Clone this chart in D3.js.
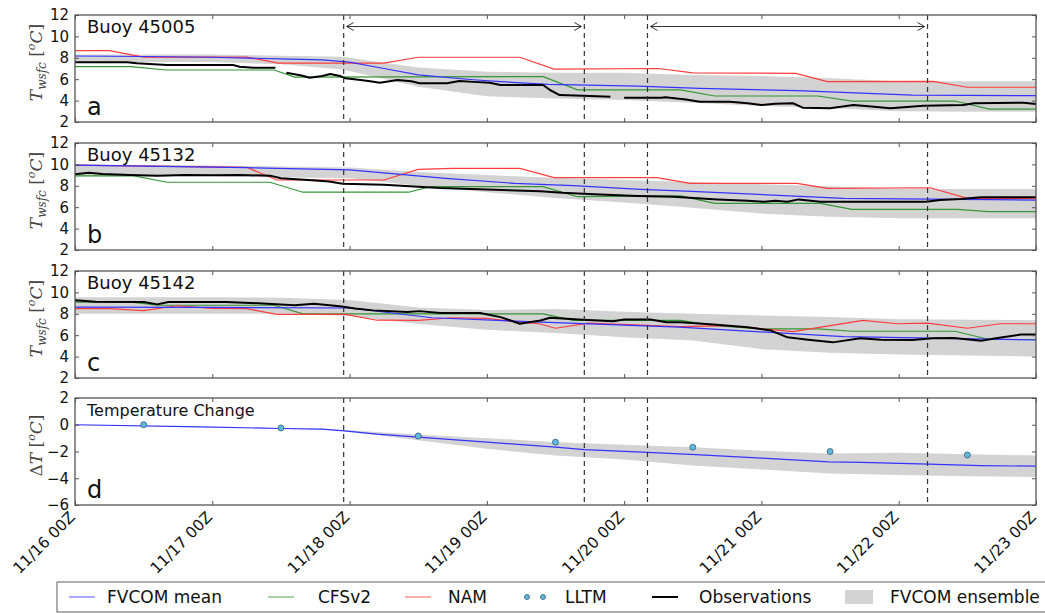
<!DOCTYPE html>
<html><head><meta charset="utf-8">
<script src="https://cdn.jsdelivr.net/npm/d3@7"></script>
<style>body{margin:0;background:#fff;overflow:hidden}</style>
</head><body>
<svg id="c" width="1045" height="613"></svg>
<script>
// ---------- data ----------
const dayLabels = ["11/16 00Z","11/17 00Z","11/18 00Z","11/19 00Z","11/20 00Z","11/21 00Z","11/22 00Z","11/23 00Z"];
const dayTicks = [0,1,2,3,4,5,6,7];
const tempTicks = [2,4,6,8,10,12];
const dTicks = [-6,-4,-2,0,2];
const panelTitles = ["Buoy 45005","Buoy 45132","Buoy 45142","Temperature Change"];
const panelLetters = ["a","b","c","d"];
const forecastMarks = [1.957, 3.71, 4.17, 6.21];
const arrowSpans = [[1.957,3.71],[4.17,6.21]];

// panel a (Buoy 45005)
const namA = [[0,8.67],[0.25,8.67],[0.5,8.07],[1.25,8.07],[1.48,7.5],[2.25,7.5],[2.5,8.05],[3.24,8.05],[3.49,6.95],[4.25,7.0],[4.5,6.6],[5.25,6.55],[5.48,5.77],[6.25,5.8],[6.5,5.25],[7,5.25]];
const fvcomA = [[0,8.17],[0.5,8.12],[1,8.05],[1.5,7.9],[1.8,7.8],[2,7.6],[2.25,7.0],[2.5,6.4],[2.9,5.95],[3.1,5.77],[3.45,5.52],[4.1,5.36],[4.55,5.15],[5.26,4.93],[6.1,4.52],[7,4.46]];
const cfsA = [[0,7.17],[0.41,7.17],[0.66,6.86],[1.45,6.86],[1.6,6.2],[3.41,6.24],[3.66,5.0],[4.41,5.0],[4.66,4.43],[5.41,4.43],[5.66,3.96],[6.41,3.96],[6.66,3.21],[7,3.21]];
const obsA = [
  [[0,7.58],[0.38,7.58],[0.45,7.48],[0.67,7.33],[1.15,7.33],[1.2,7.17],[1.3,7.07],[1.46,7.07]],
  [[1.54,6.6],[1.65,6.35],[1.71,6.14],[1.8,6.3],[1.86,6.49],[1.93,6.3],[1.97,6.08],[2.08,5.93],[2.15,5.8],[2.22,5.67],[2.35,5.93],[2.45,5.8],[2.51,5.62],[2.71,5.62],[2.8,5.83],[2.9,5.75],[3.02,5.67],[3.1,5.46],[3.41,5.46],[3.46,4.99],[3.53,4.52],[3.7,4.45],[3.9,4.37]],
  [[4.0,4.27],[4.27,4.27],[4.3,4.32],[4.45,4.1],[4.55,3.9],[4.77,3.9],[4.9,3.75],[5.0,3.59],[5.1,3.7],[5.23,3.75],[5.3,3.34],[5.5,3.28],[5.67,3.59],[5.8,3.45],[5.94,3.28],[6.18,3.52],[6.47,3.59],[6.55,3.75],[6.91,3.8],[7,3.68]]
];
const bandDaysA = [0,1,1.5,1.95,2.5,3,3.5,4,4.5,5,5.5,6,6.5,7];
const bandTopA = [8.3,8.3,8.2,8.1,7.1,6.7,6.6,6.6,6.4,6.3,6.1,5.8,5.8,5.8];
const bandBotA = [7.6,7.6,7.4,6.9,5.3,4.4,4.2,4.05,3.8,3.5,3.3,3.0,2.95,2.95];

// panel b (Buoy 45132)
const namB = [[0,9.94],[1.25,9.73],[1.47,8.54],[2.25,8.54],[2.5,9.54],[2.75,9.63],[3.24,9.63],[3.49,8.76],[4.24,8.76],[4.48,8.23],[5.26,8.23],[5.48,7.76],[6.23,7.82],[6.5,6.83],[7,6.83]];
const fvcomB = [[0,9.94],[1.25,9.7],[2,9.48],[2.7,8.7],[3.2,8.23],[3.63,8.01],[4.12,7.67],[4.45,7.5],[5.6,6.83],[7,6.67]];
const cfsB = [[0,8.92],[0.43,8.92],[0.67,8.33],[1.42,8.33],[1.66,7.4],[2.43,7.4],[2.59,7.92],[3.41,7.92],[3.66,6.98],[4.41,7.05],[4.66,6.36],[5.43,6.36],[5.66,5.8],[6.43,5.8],[6.65,5.58],[7,5.58]];
const obsB = [[[0,9.07],[0.1,9.22],[0.2,9.1],[0.4,9.0],[0.6,8.95],[0.8,9.0],[1.0,8.98],[1.2,9.0],[1.42,8.95],[1.5,8.7],[1.7,8.55],[1.85,8.4],[1.95,8.2],[2.25,8.1],[2.66,7.8],[3.0,7.65],[3.39,7.5],[3.55,7.35],[3.78,7.2],[4.1,7.05],[4.36,6.98],[4.68,6.73],[4.9,6.6],[5.02,6.5],[5.1,6.6],[5.19,6.51],[5.27,6.73],[5.43,6.51],[5.9,6.5],[6.2,6.5],[6.3,6.67],[6.45,6.77],[6.6,6.92],[7,6.92]]];
const bandDaysB = [0,1,1.5,2,2.5,3,3.5,4,4.5,5,5.5,6,7];
const bandTopB = [10.0,9.9,9.8,9.7,9.3,9.0,8.75,8.55,8.35,8.15,7.95,7.7,7.7];
const bandBotB = [8.9,8.9,8.8,8.7,8.0,7.4,6.85,6.45,5.95,5.4,5.1,4.96,4.96];

// panel c (Buoy 45142)
const namC = [[0,8.48],[0.25,8.48],[0.5,8.3],[0.74,8.75],[1.0,8.5],[1.25,8.48],[1.47,7.94],[1.97,7.94],[2.2,7.4],[2.5,7.38],[2.75,7.63],[3.0,7.57],[3.24,7.22],[3.38,7.07],[3.5,6.65],[3.74,7.13],[4.41,6.81],[4.75,6.9],[5.23,6.34],[5.74,7.38],[5.99,7.07],[6.21,7.13],[6.5,6.65],[6.74,7.07],[7,7.07]];
const fvcomC = [[0,8.63],[1,8.6],[2,8.54],[2.6,7.63],[3.4,7.22],[4.4,6.75],[5.6,5.87],[7,5.55]];
const cfsC = [[0,9.1],[0.41,9.1],[0.6,8.8],[1.45,8.8],[1.66,8.0],[3.41,8.0],[3.63,7.38],[4.41,7.38],[4.66,6.9],[5.0,6.6],[5.41,6.59],[5.66,6.37],[6.41,6.37],[6.66,5.6],[7,5.6]];
const obsC = [[[0,9.26],[0.15,9.12],[0.5,9.1],[0.6,8.88],[0.68,9.1],[1.1,9.1],[1.4,8.95],[1.6,8.8],[1.74,8.95],[1.93,8.7],[2.04,8.5],[2.17,8.32],[2.42,8.16],[2.51,8.25],[2.66,8.07],[2.95,8.07],[3.1,7.69],[3.24,7.07],[3.39,7.38],[3.46,7.63],[3.7,7.44],[3.92,7.31],[4.0,7.47],[4.19,7.47],[4.31,7.22],[4.41,7.22],[4.65,7.0],[4.9,6.75],[5.07,6.43],[5.19,5.8],[5.34,5.58],[5.52,5.33],[5.72,5.71],[5.87,5.58],[6.1,5.55],[6.25,5.71],[6.4,5.74],[6.6,5.49],[6.72,5.74],[6.89,6.06],[7,6.06]]];
const bandDaysC = [0,1,1.5,2,2.5,3,3.5,4,4.5,5,5.5,6,7];
const bandTopC = [9.55,9.55,9.5,9.3,8.6,8.35,8.45,8.2,8.0,7.85,7.7,7.5,7.4];
const bandBotC = [8.0,8.0,8.0,7.8,7.05,6.5,6.2,5.8,5.5,4.7,4.35,4.2,4.0];

// panel d (Temperature change)
const fvcomD = [[0,0.0],[0.92,-0.16],[1.5,-0.28],[1.8,-0.33],[1.96,-0.46],[2.2,-0.7],[2.5,-0.92],[3.0,-1.3],[3.5,-1.68],[3.71,-1.86],[4.17,-2.06],[4.52,-2.24],[5.0,-2.5],[5.49,-2.77],[5.73,-2.82],[6.22,-2.95],[6.6,-3.05],[7,-3.1]];
const bandDaysD = [0,1,1.9,2.5,3,3.5,4,4.5,5,5.5,6,6.5,7];
const bandTopD = [0.0,-0.16,-0.36,-0.72,-1.0,-1.3,-1.5,-1.68,-1.95,-2.15,-2.1,-2.2,-2.3];
const bandBotD = [-0.02,-0.18,-0.4,-1.15,-1.8,-2.3,-2.6,-3.05,-3.35,-3.65,-3.75,-3.85,-3.9];
const lltmDays = [0.5,1.5,2.5,3.5,4.5,5.5,6.5];
const lltmVals = [0.0,-0.24,-0.84,-1.3,-1.68,-2.0,-2.26];

const legendNames = ["FVCOM mean","CFSv2","NAM","LLTM","Observations","FVCOM ensemble"];

// ---------- layout ----------
const C = {blue:"#3333ff", green:"#349634", red:"#ff3c3c", band:"#d3d3d3", frame:"#555"};
const X0 = 75, X1 = 1036, PH = 107;
const tops = [15,143,271,398];
const svg = d3.select("#c");
const x = d3.scaleLinear().domain([0,7]).range([X0,X1]);

const panels = [
  {nam:namA, fv:fvcomA, cfs:cfsA, obs:obsA, bd:bandDaysA, bt:bandTopA, bb:bandBotA, dom:[2,12], ticks:tempTicks},
  {nam:namB, fv:fvcomB, cfs:cfsB, obs:obsB, bd:bandDaysB, bt:bandTopB, bb:bandBotB, dom:[2,12], ticks:tempTicks},
  {nam:namC, fv:fvcomC, cfs:cfsC, obs:obsC, bd:bandDaysC, bt:bandTopC, bb:bandBotC, dom:[2,12], ticks:tempTicks},
  {fv:fvcomD, bd:bandDaysD, bt:bandTopD, bb:bandBotD, dom:[-6,2], ticks:dTicks}
];

const fmt = v => (v<0 ? "\u2212"+Math.abs(v) : ""+v);

panels.forEach((p,i)=>{
  const top = tops[i];
  const y = d3.scaleLinear().domain(p.dom).range([top+PH, top]);
  const g = svg.append("g");
  const clipId = "clip"+i;
  svg.append("clipPath").attr("id",clipId).append("rect").attr("x",X0).attr("y",top).attr("width",X1-X0).attr("height",PH);
  const pg = g.append("g").attr("clip-path",`url(#${clipId})`);

  // ensemble band
  const area = d3.area().x(d=>x(d[0])).y0(d=>y(d[2])).y1(d=>y(d[1]));
  pg.append("path").datum(p.bd.map((d,k)=>[d,p.bt[k],p.bb[k]]))
    .attr("d",area).attr("fill",C.band);

  const line = d3.line().x(d=>x(d[0])).y(d=>y(d[1]));
  if(p.cfs) pg.append("path").attr("d",line(p.cfs)).attr("fill","none").attr("stroke",C.green).attr("stroke-width",1.2);
  if(p.nam) pg.append("path").attr("d",line(p.nam)).attr("fill","none").attr("stroke",C.red).attr("stroke-width",1.2);
  pg.append("path").attr("d",line(p.fv)).attr("fill","none").attr("stroke",C.blue).attr("stroke-width",1.2);
  if(p.obs) p.obs.forEach(seg=>pg.append("path").attr("d",line(seg)).attr("fill","none").attr("stroke","#000").attr("stroke-width",2).attr("stroke-linejoin","round"));
  if(i===3){
    pg.selectAll("circle").data(lltmDays.map((d,k)=>[d,lltmVals[k]])).join("circle")
      .attr("cx",d=>x(d[0])).attr("cy",d=>y(d[1])).attr("r",3)
      .attr("fill","#62b9dd").attr("stroke","#2d5f7c").attr("stroke-width",0.8);
  }

  // dashed forecast markers
  forecastMarks.forEach(m=>{
    g.append("line").attr("x1",x(m)).attr("x2",x(m)).attr("y1",top).attr("y2",top+PH)
      .attr("stroke","#333").attr("stroke-width",1.2).attr("stroke-dasharray","5,4");
  });

  // frame
  g.append("rect").attr("x",X0).attr("y",top).attr("width",X1-X0).attr("height",PH)
    .attr("fill","none").attr("stroke",C.frame).attr("stroke-width",1.3);

  // ticks (inward, all sides)
  const yl = d3.axisLeft(y).tickValues(p.ticks).tickSize(-4).tickPadding(6).tickFormat(fmt);
  const ga = g.append("g").attr("transform",`translate(${X0},0)`).call(yl);
  ga.select(".domain").remove();
  ga.selectAll("line").attr("stroke",C.frame);
  ga.selectAll("text").attr("font-family","DejaVu Sans").attr("font-size",15).attr("fill","#111");
  const yr = d3.axisRight(y).tickValues(p.ticks).tickSize(-4).tickFormat("");
  const gr = g.append("g").attr("transform",`translate(${X1},0)`).call(yr);
  gr.select(".domain").remove(); gr.selectAll("line").attr("stroke",C.frame);
  const xb = d3.axisBottom(x).tickValues(dayTicks).tickSize(-4).tickFormat("");
  const gb = g.append("g").attr("transform",`translate(0,${top+PH})`).call(xb);
  gb.select(".domain").remove(); gb.selectAll("line").attr("stroke",C.frame);
  const xt = d3.axisTop(x).tickValues(dayTicks).tickSize(-4).tickFormat("");
  const gt = g.append("g").attr("transform",`translate(0,${top})`).call(xt);
  gt.select(".domain").remove(); gt.selectAll("line").attr("stroke",C.frame);

  // titles
  g.append("text").attr("x",87).attr("y",top+18).attr("font-family","DejaVu Sans")
    .attr("font-size", i===3?16:18).attr("fill","#111").text(panelTitles[i]);
  g.append("text").attr("x",87).attr("y",top+PH-7).attr("font-family","DejaVu Sans")
    .attr("font-size",24).attr("fill","#111").text(panelLetters[i]);

  // y label
  const lab = g.append("text").attr("transform",`translate(42,${top+PH/2-6}) rotate(-90)`)
    .attr("text-anchor","middle").attr("font-family","DejaVu Serif").attr("font-size",17).attr("fill","#444");
  if(i<3){
    lab.append("tspan").attr("font-style","italic").text("T");
    lab.append("tspan").attr("font-style","italic").attr("font-size",12).attr("dy",4).text("wsfc");
    lab.append("tspan").attr("dy",-4).text(" [");
  } else {
    lab.append("tspan").text("\u0394");
    lab.append("tspan").attr("font-style","italic").text("T");
    lab.append("tspan").text(" [");
  }
  lab.append("tspan").attr("font-style","italic").attr("font-size",11).attr("dy",-7).text("o");
  lab.append("tspan").attr("font-style","italic").attr("dy",7).text("C");
  lab.append("tspan").text("]");
});

// arrows in panel a
const ay = 26.5;
arrowSpans.forEach(s=>{
  const a = x(s[0])+3, b = x(s[1])-3;
  const ag = svg.append("g").attr("stroke","#333").attr("stroke-width",1).attr("fill","none");
  ag.append("line").attr("x1",a).attr("x2",b).attr("y1",ay).attr("y2",ay);
  ag.append("polyline").attr("points",`${a+7},${ay-4} ${a},${ay} ${a+7},${ay+4}`);
  ag.append("polyline").attr("points",`${b-7},${ay-4} ${b},${ay} ${b-7},${ay+4}`);
});

// x tick labels (bottom panel)
const yb = tops[3]+PH;
svg.append("g").selectAll("text").data(dayTicks).join("text")
  .attr("transform",d=>`translate(${x(d)+1},${yb+13}) rotate(-45)`)
  .attr("text-anchor","end").attr("font-family","DejaVu Sans").attr("font-size",15.5).attr("fill","#111")
  .text((d,k)=>dayLabels[k]);

// legend
const lg = svg.append("g");
lg.append("rect").attr("x",57).attr("y",582).attr("width",1010).attr("height",30)
  .attr("fill","#fff").attr("stroke","#777").attr("stroke-width",1.2);
const ly = 597;
const items = [
  {t:"line", c:C.blue, x:69, tx:107},
  {t:"line", c:C.green, x:268, tx:318},
  {t:"line", c:C.red, x:405, tx:448},
  {t:"dots", x:527, tx:565},
  {t:"line", c:"#000", x:652, tx:699, w:2},
  {t:"patch", x:845, tx:890}
];
items.forEach((it,k)=>{
  if(it.t==="line") lg.append("line").attr("x1",it.x).attr("x2",it.x+26).attr("y1",ly).attr("y2",ly)
      .attr("stroke",it.c).attr("stroke-width",it.w||1.2).attr("opacity",it.w?1:0.7);
  if(it.t==="dots") [0,16].forEach(o=>lg.append("circle").attr("cx",it.x+o).attr("cy",ly).attr("r",2.5)
      .attr("fill","#62b9dd").attr("stroke","#2d5f7c").attr("stroke-width",0.8));
  if(it.t==="patch") lg.append("rect").attr("x",it.x).attr("y",ly-7).attr("width",28).attr("height",14).attr("fill",C.band);
  lg.append("text").attr("x",it.tx).attr("y",ly+6).attr("font-family","DejaVu Sans").attr("font-size",17)
    .attr("fill","#111").text(legendNames[k]);
});
</script>
</body></html>
